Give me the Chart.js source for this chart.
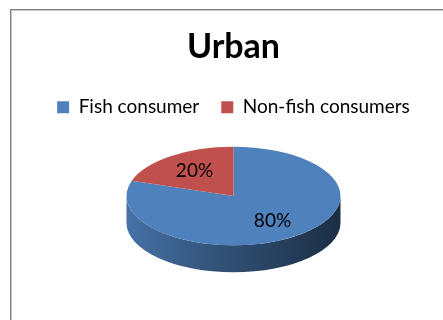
<!DOCTYPE html>
<html>
<head>
<meta charset="utf-8">
<script src="https://cdn.jsdelivr.net/npm/chart.js@4.4.1/dist/chart.umd.min.js"></script>
<style>
  html, body { margin: 0; padding: 0; background: #fff; overflow: hidden; }
  #wrap { position: relative; width: 443px; height: 320px; }
  #frame {
    position: absolute; left: 10px; top: 9px; width: 600px; height: 500px;
    border: 1px solid #7f7f7f; box-shadow: inset 1px 1px 0 #c8c8c8;
  }
  #chart { position: absolute; left: 0; top: 0; }
</style>
</head>
<body>
<div id="wrap">
  <div id="frame"></div>
  <canvas id="chart" width="443" height="320"></canvas>
</div>
<script>
var titleText = 'Urban';
var categories = ['Fish consumer', 'Non-fish consumers'];
var shares = [80, 20];
var sliceColors = ['#4F81BD', '#C0504D'];

var FONT = 'Lato, "Open Sans", sans-serif';
var tilt = 0.46;     // vertical squash of the pie top
var depth = 27;      // thickness of the pie wall
var labelPos = 0.62; // label distance from centre, fraction of radius
var legendGap = 20;  // space between legend and pie

function shade(hex, f) {
  var n = parseInt(hex.slice(1), 16);
  var r = Math.round(((n >> 16) & 255) * f);
  var g = Math.round(((n >> 8) & 255) * f);
  var b = Math.round((n & 255) * f);
  return 'rgb(' + r + ',' + g + ',' + b + ')';
}

// extra room under the legend
var legendMargin = {
  id: 'legendMargin',
  beforeInit: function(chart) {
    var fit = chart.legend.fit;
    chart.legend.fit = function() {
      fit.call(this);
      this.height += legendGap;
    };
  }
};

// squashes the pie into an ellipse and adds a shaded wall underneath
var pie3d = {
  id: 'pie3d',
  geom: function(chart) {
    var arc = chart.getDatasetMeta(0).data[0];
    var r = arc.outerRadius;
    return { cx: arc.x, cy: arc.y, r: r, ry: r * tilt, sy: chart.chartArea.top + r * tilt };
  },
  beforeDatasetsDraw: function(chart) {
    var ctx = chart.ctx;
    var g = this.geom(chart);
    var arcs = chart.getDatasetMeta(0).data;

    // front wall, one piece per slice that faces the viewer
    arcs.forEach(function(arc) {
      var a0 = arc.startAngle, a1 = arc.endAngle;
      for (var k = -1; k <= 1; k++) {
        var s = Math.max(a0 + k * 2 * Math.PI, 0);
        var e = Math.min(a1 + k * 2 * Math.PI, Math.PI);
        if (e <= s) continue;
        var col = arc.options.backgroundColor;
        var grad = ctx.createLinearGradient(g.cx - g.r, 0, g.cx + g.r, 0);
        grad.addColorStop(0, shade(col, 0.88));
        grad.addColorStop(0.45, shade(col, 0.62));
        grad.addColorStop(1, shade(col, 0.36));
        ctx.save();
        ctx.beginPath();
        ctx.ellipse(g.cx, g.sy, g.r, g.ry, 0, s, e, false);
        ctx.lineTo(g.cx + g.r * Math.cos(e), g.sy + depth + g.ry * Math.sin(e));
        ctx.ellipse(g.cx, g.sy + depth, g.r, g.ry, 0, e, s, true);
        ctx.closePath();
        ctx.fillStyle = grad;
        ctx.fill();
        ctx.restore();
      }
    });

    ctx.save();
    ctx.translate(0, g.sy);
    ctx.scale(1, tilt);
    ctx.translate(0, -g.cy);
  },
  afterDatasetsDraw: function(chart) {
    var ctx = chart.ctx;
    ctx.restore();
    var g = this.geom(chart);
    var arcs = chart.getDatasetMeta(0).data;
    var total = shares.reduce(function(a, b) { return a + b; }, 0);
    ctx.save();
    ctx.font = '19px ' + FONT;
    ctx.fillStyle = '#000';
    ctx.textAlign = 'center';
    ctx.textBaseline = 'middle';
    arcs.forEach(function(arc, i) {
      var mid = (arc.startAngle + arc.endAngle) / 2;
      var x = g.cx + g.r * labelPos * Math.cos(mid);
      var y = g.sy + g.ry * labelPos * Math.sin(mid);
      ctx.fillText(Math.round(shares[i] / total * 100) + '%', x, y);
    });
    ctx.restore();
  }
};

new Chart(document.getElementById('chart'), {
  type: 'pie',
  data: {
    labels: categories,
    datasets: [{
      data: shares,
      backgroundColor: sliceColors,
      borderWidth: 0
    }]
  },
  options: {
    responsive: false,
    animation: false,
    events: [],
    radius: 107,
    layout: { padding: { left: 24, right: 0, top: 27, bottom: 0 } },
    plugins: {
      title: {
        display: true,
        text: titleText,
        color: '#000',
        font: { family: FONT, size: 34, weight: 'bold' },
        padding: { top: 0, bottom: 8 }
      },
      legend: {
        position: 'top',
        labels: {
          color: '#000',
          font: { family: FONT, size: 19 },
          boxWidth: 12,
          boxHeight: 12,
          padding: 22
        }
      },
      tooltip: { enabled: false }
    }
  },
  plugins: [legendMargin, pie3d]
});
</script>
</body>
</html>
